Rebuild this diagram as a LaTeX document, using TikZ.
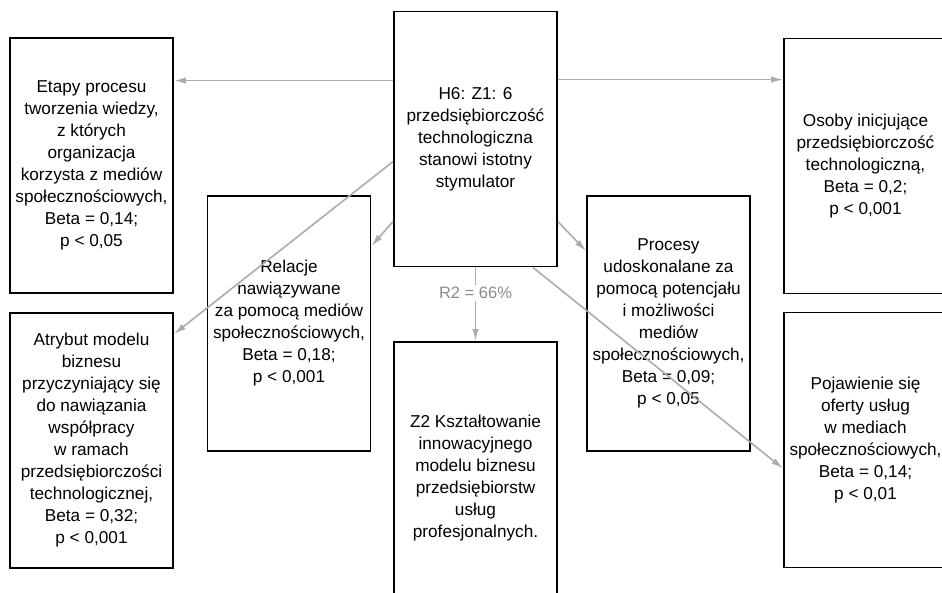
\documentclass[tikz,border=0pt]{standalone}
\usepackage{fontspec}
\setmainfont{Liberation Sans}
\usetikzlibrary{arrows.meta}
\definecolor{linkgray}{RGB}{172,172,172}
\definecolor{labelgray}{RGB}{140,140,140}
\tikzset{
  box/.style={draw, line width=1.9pt, minimum width=163pt, minimum height=255pt,
    align=center, inner sep=0pt, font=\fontsize{17.2}{22}\selectfont},
  link/.style={-{Latex[length=12pt,width=6.5pt]}, draw=linkgray, line width=1.6pt},
}
\begin{document}
\begin{tikzpicture}[x=1pt,y=-1pt]
\useasboundingbox (0,0) rectangle (942,592);
\clip (0,0) rectangle (942,592);
% boxes
\node[box] (h6) at (475.5,139) {H6: Z1: 6\\przedsiębiorczość\\technologiczna\\stanowi istotny\\stymulator};
\node[box] (etapy) at (91.5,165.5) {Etapy procesu\\tworzenia wiedzy,\\z których\\organizacja\\korzysta z mediów\\społecznościowych,\\Beta = 0,14;\\p < 0,05};
\node[box] (osoby) at (865.5,166) {Osoby inicjujące\\przedsiębiorczość\\technologiczną,\\Beta = 0,2;\\p < 0,001};
\node[box] (relacje) at (289,323.5) {Relacje\\nawiązywane\\za pomocą mediów\\społecznościowych,\\Beta = 0,18;\\p < 0,001};
\node[box] (procesy) at (668.5,323.5) {Procesy\\udoskonalane za\\pomocą potencjału\\i możliwości\\mediów\\społecznościowych,\\Beta = 0,09;\\p < 0,05};
\node[box] (atrybut) at (91.5,440.5) {Atrybut modelu\\biznesu\\przyczyniający się\\do nawiązania\\współpracy\\w ramach\\przedsiębiorczości\\technologicznej,\\Beta = 0,32;\\p < 0,001};
\node[box, minimum height=272pt] (z2) at (475.5,478) {Z2 Kształtowanie\\innowacyjnego\\modelu biznesu\\przedsiębiorstw\\usług\\profesjonalnych.};
\node[box] (pojawienie) at (865.5,440) {Pojawienie się\\oferty usług\\w mediach\\społecznościowych,\\Beta = 0,14;\\p < 0,01};
% links
\coordinate (s1) at ([yshift=-70pt]h6.north west);
\coordinate (s2) at ([yshift=-69pt]h6.north east);
\draw[link] (s1) -- (s1 -| etapy.east);
\draw[link] (s2) -- (s2 -| osoby.west);
\draw[link] ([yshift=-151pt]h6.north west) -- ([yshift=-22pt]atrybut.north east);
\draw[link] ([yshift=-211pt]h6.north west) -- ([yshift=-51pt]relacje.north east);
\draw[link] ([yshift=-211pt]h6.north east) -- ([yshift=-56pt]procesy.north west);
\draw[link] ([xshift=57.5pt]h6.south) -- ([yshift=-157pt]pojawienie.north west);
\draw[link] (h6.south) -- node[pos=0.35, fill=white, text=labelgray, inner sep=2pt,
  font=\fontsize{16.5}{18}\selectfont] (r2) {R2 = 66\%} (z2.north);
\end{tikzpicture}
\end{document}
